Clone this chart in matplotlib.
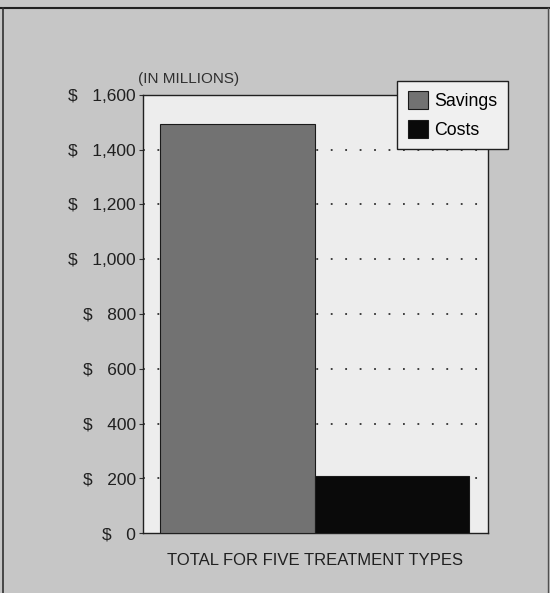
import matplotlib.pyplot as plt
from matplotlib.lines import Line2D

plt.rcParams["font.family"] = ["Liberation Sans", "DejaVu Sans"]

categories = ["Savings", "Costs"]
values = [1495, 210]
bar_colors = ["#727272", "#0a0a0a"]
yticks = [0, 200, 400, 600, 800, 1000, 1200, 1400, 1600]

fig = plt.figure(figsize=(5.5, 5.93), dpi=100)
fig.patch.set_facecolor("#c6c6c6")

# scanned page frame
fig.add_artist(Line2D([0, 1], [0.987, 0.987], color="#202020", lw=1.5, transform=fig.transFigure))
fig.add_artist(Line2D([0.006, 0.006], [0, 0.987], color="#303030", lw=1.2, transform=fig.transFigure))
fig.add_artist(Line2D([0.997, 0.997], [0, 0.987], color="#505050", lw=1.0, transform=fig.transFigure))

ax = fig.add_axes([0.26, 0.101, 0.627, 0.739])
ax.set_facecolor("#ededed")

bars = ax.bar(range(len(values)), values, width=1.0, color=bar_colors,
              edgecolor="#1a1a1a", linewidth=0.8, label=categories, zorder=3)

ax.set_xlim(-0.61, 1.62)
ax.set_ylim(0, 1600)
ax.set_yticks(yticks)
ax.set_yticklabels([f"$   {v:,}" for v in yticks], fontsize=12.5, color="#202020")
ax.set_xticks([])
ax.tick_params(axis="y", length=3, width=0.8, color="#303030", pad=2)

for v in yticks[1:-1]:
    ax.axhline(v, color="#303030", lw=1.3, linestyle=(0, (1, 7)), zorder=1)

for s in ax.spines.values():
    s.set_color("#202020")
    s.set_linewidth(1.0)

ax.set_xlabel("TOTAL FOR FIVE TREATMENT TYPES", fontsize=12, color="#202020", labelpad=14)
ax.text(-0.015, 1.02, "(IN MILLIONS)", transform=ax.transAxes, fontsize=11,
        color="#303030", ha="left", va="bottom")

leg = fig.legend(handles=bars.patches, labels=categories, loc="upper left",
                 bbox_to_anchor=(0.722, 0.864), fontsize=12.8, frameon=True,
                 fancybox=False, handlelength=1.15, handleheight=1.15,
                 handletextpad=0.35, borderpad=0.6, labelspacing=0.55,
                 borderaxespad=0)
leg.get_frame().set_edgecolor("#202020")
leg.get_frame().set_facecolor("#f0f0f0")
leg.get_frame().set_linewidth(1.0)
leg.get_frame().set_alpha(1)

fig.savefig("out.png", dpi=100, facecolor=fig.get_facecolor())
